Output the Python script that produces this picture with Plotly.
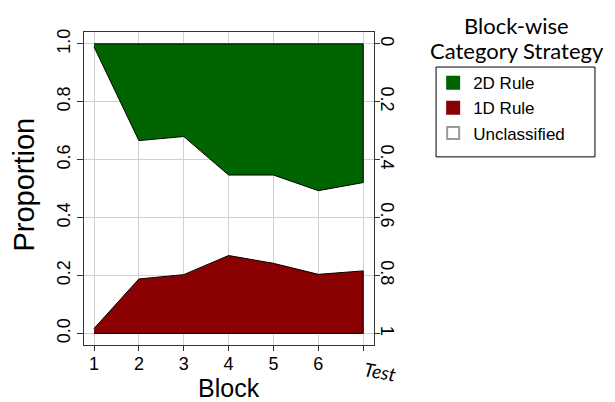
import plotly.graph_objects as go

# Proportion of participants using each strategy, per block
blocks = [1, 2, 3, 4, 5, 6, 7]
block_labels = ["1", "2", "3", "4", "5", "6", ""]
rule_2d = [0.01, 0.334, 0.320, 0.453, 0.453, 0.507, 0.479]
rule_1d = [0.017, 0.188, 0.203, 0.269, 0.242, 0.204, 0.216]

left_ticks = [0, 0.2, 0.4, 0.6, 0.8, 1.0]
left_tick_text = ["0.0", "0.2", "0.4", "0.6", "0.8", "1.0"]
right_tick_text = ["0", "0.2", "0.4", "0.6", "0.8", "1"]

GREEN = "#006400"
RED = "#8B0000"
SANS = "Liberation Sans"
HUMANIST = "Lato"
TICK_FONT = dict(family=SANS, size=18, color="black")

fig = go.Figure()

# 2D rule band: from the 2D boundary up to 1
upper = [1 - v for v in rule_2d]
fig.add_trace(go.Scatter(
    x=blocks + blocks[::-1],
    y=upper + [1.0] * len(blocks),
    fill="toself", fillcolor=GREEN, mode="lines",
    line=dict(color="black", width=1), showlegend=False, hoverinfo="skip",
))

# 1D rule band: from 0 up to the 1D proportion
fig.add_trace(go.Scatter(
    x=blocks + blocks[::-1],
    y=rule_1d + [0.0] * len(blocks),
    fill="toself", fillcolor=RED, mode="lines",
    line=dict(color="black", width=1), showlegend=False, hoverinfo="skip",
))

# Legend swatches
for name, col, edge in [("2D Rule", GREEN, GREEN), ("1D Rule", RED, RED),
                        ("Unclassified", "white", "#999999")]:
    fig.add_trace(go.Scatter(
        x=[None], y=[None], mode="markers", name=name,
        marker=dict(symbol="square", size=12, color=col, line=dict(color=edge, width=1)),
    ))

# Right-hand axis carries the complementary scale
fig.add_trace(go.Scatter(x=[None], y=[None], yaxis="y2", showlegend=False))

fig.update_layout(
    width=615, height=402,
    margin=dict(l=84, r=241, t=32, b=57),
    plot_bgcolor="white", paper_bgcolor="white",
    showlegend=True,
    legend=dict(
        x=1.204, y=0.894, xanchor="left", yanchor="top",
        bgcolor="rgba(0,0,0,0)", borderwidth=0,
        font=dict(family=SANS, size=17, color="black"),
        tracegroupgap=0, itemsizing="constant",
    ),
    xaxis=dict(
        range=[0.777, 7.24], tickmode="array", tickvals=blocks, ticktext=block_labels,
        ticks="outside", ticklen=5, tickcolor="#333", tickfont=TICK_FONT,
        ticklabelstandoff=-3,
        showline=True, linecolor="#333", linewidth=1, mirror=True,
        showgrid=True, gridcolor="#d0d0d0", gridwidth=1, zeroline=False,
    ),
    yaxis=dict(
        range=[-0.040, 1.041], tickmode="array", tickvals=left_ticks, ticktext=left_tick_text,
        tickangle=-90, ticks="outside", ticklen=6, tickcolor="#333", tickfont=TICK_FONT,
        showline=True, linecolor="#333", linewidth=1, mirror=True,
        showgrid=True, gridcolor="#d0d0d0", gridwidth=1, zeroline=False,
    ),
    yaxis2=dict(
        overlaying="y", side="right",
        range=[1.040, -0.041], tickmode="array", tickvals=left_ticks, ticktext=right_tick_text,
        tickangle=90, ticks="outside", ticklen=5, tickcolor="#333", tickfont=TICK_FONT,
        ticklabelstandoff=-6,
        showline=False, showgrid=False, zeroline=False,
    ),
)

# Legend frame
fig.add_shape(type="rect", xref="paper", yref="paper",
              x0=1.214, x1=1.762, y0=0.601, y1=0.888,
              line=dict(color="black", width=1), fillcolor="rgba(0,0,0,0)")

TITLE_FONT = dict(family=HUMANIST, size=22, color="black")
fig.add_annotation(text="Block-wise", xref="paper", yref="paper", x=1.493, y=1.022,
                   showarrow=False, font=TITLE_FONT, xanchor="center", yanchor="middle")
fig.add_annotation(text="Category Strategy", xref="paper", yref="paper", x=1.493, y=0.942,
                   showarrow=False, font=TITLE_FONT, xanchor="center", yanchor="middle")

# Axis titles
fig.add_annotation(text="Proportion", xref="paper", yref="paper", x=-0.205, y=0.511,
                   textangle=-90, showarrow=False, xanchor="center", yanchor="middle",
                   font=dict(family=SANS, size=29, color="black"))
fig.add_annotation(text="Block", xref="paper", yref="paper", x=0.5, y=-0.137,
                   showarrow=False, xanchor="center", yanchor="middle",
                   font=dict(family=SANS, size=25, color="black"))
fig.add_annotation(text="<i>Test</i>", xref="paper", yref="paper", x=1.021, y=-0.086,
                   textangle=10, showarrow=False, xanchor="center", yanchor="middle",
                   font=dict(family=HUMANIST, size=19, color="black"))

fig.write_html("out.html")
